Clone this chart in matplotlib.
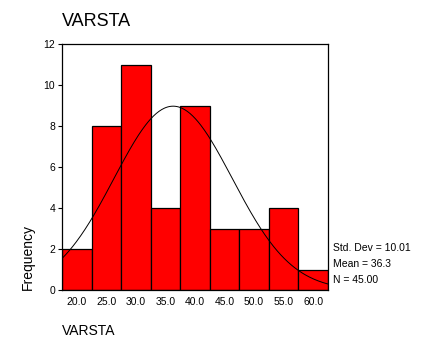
import numpy as np
import matplotlib
matplotlib.use("Agg")
import matplotlib.pyplot as plt

plt.rcParams['font.family'] = ['Liberation Sans', 'DejaVu Sans']

# histogram of VARSTA, bin centres and counts
bin_centres = [20.0, 25.0, 30.0, 35.0, 40.0, 45.0, 50.0, 55.0, 60.0]
counts = [2, 8, 11, 4, 9, 3, 3, 4, 1]
bin_width = 5.0
std_dev = 10.01
mean = 36.3
n = 45

fig = plt.figure(figsize=(4.34, 3.47), dpi=100)
ax = fig.add_axes([62 / 434, 1 - 290 / 347, 266 / 434, 246 / 347])

ax.bar(bin_centres, counts, width=bin_width, color='#ff0000',
       edgecolor='black', linewidth=0.9)

# fitted normal curve scaled to counts
lo = bin_centres[0] - bin_width / 2
hi = bin_centres[-1] + bin_width / 2
xs = np.linspace(lo, hi, 300)
ys = n * bin_width / (std_dev * np.sqrt(2 * np.pi)) * np.exp(-0.5 * ((xs - mean) / std_dev) ** 2)
ax.plot(xs, ys, color='black', linewidth=0.7)

ax.set_xlim(lo, hi)
ax.set_ylim(0, 12)
ax.set_xticks(bin_centres)
ax.set_xticklabels(['%.1f' % c for c in bin_centres])
ax.set_yticks([0, 2, 4, 6, 8, 10, 12])
ax.tick_params(axis='x', length=0, pad=5, labelsize=7.5)
ax.tick_params(axis='y', length=3, width=0.8, pad=2, labelsize=7.5)
for s in ax.spines.values():
    s.set_linewidth(0.9)

ax.set_ylabel('Frequency', fontsize=10, loc='bottom', labelpad=6)

fig.text(62 / 434, 1 - 22 / 347, 'VARSTA', fontsize=13, va='center', ha='left')
fig.text(62 / 434, 1 - 331 / 347, 'VARSTA', fontsize=10, va='center', ha='left')

stats = ['Std. Dev = %.2f' % std_dev, 'Mean = %.1f' % mean, 'N = %.2f' % n]
for i, s in enumerate(stats):
    fig.text(333 / 434, 1 - (248 + 16 * i) / 347, s, fontsize=7.5, va='center', ha='left')

fig.savefig('out.png', dpi=100)
